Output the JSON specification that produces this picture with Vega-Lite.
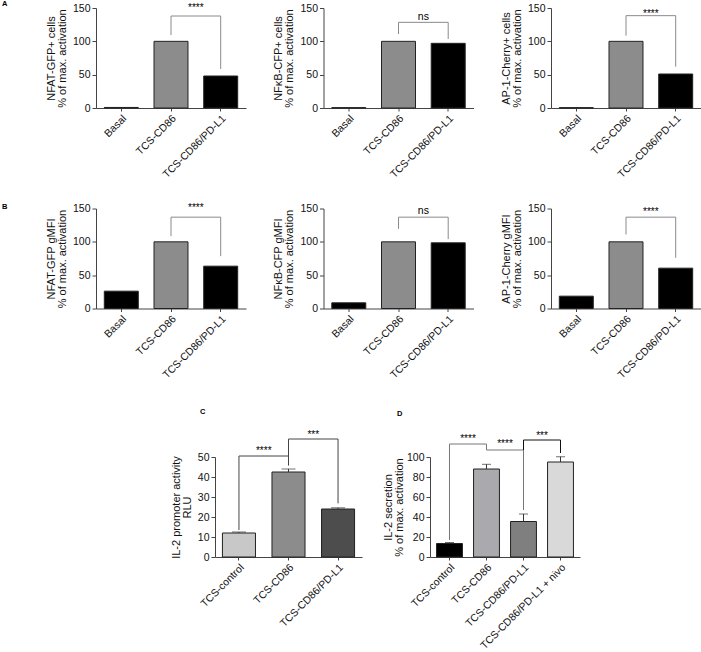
{
 "$schema": "https://vega.github.io/schema/vega-lite/v6.json",
 "padding": {"left": 2, "top": 0, "right": 0, "bottom": 0},
 "align": "none",
 "spacing": 27,
 "resolve": {"scale": {"color": "independent"}},
 "config": {
  "view": {"stroke": null},
  "font": "Liberation Sans",
  "axis": {"labelFont": "Liberation Sans", "titleFont": "Liberation Sans", "labelFontSize": 10.5, "titleFontSize": 11, "titleFontWeight": "normal", "labelColor": "#111", "titleColor": "#111", "domainColor": "#444", "tickColor": "#444", "grid": false, "titleLineHeight": 11, "labelOverlap": false, "labelFlush": false, "labelSeparation": -60},
  "axisX": {"labelAngle": -45, "tickSize": 3, "labelPadding": 2},
  "axisY": {"tickSize": 4, "labelPadding": 2, "titlePadding": 5},
  "text": {"font": "Liberation Sans", "color": "#000"},
  "title": {"font": "Liberation Sans", "fontWeight": "bold", "fontSize": 7.5, "anchor": "start", "frame": "group", "offset": 0, "color": "#000"}
 },
 "datasets": {
  "a1": [{"cond": "Basal", "v": 0.8}, {"cond": "TCS-CD86", "v": 100}, {"cond": "TCS-CD86/PD-L1", "v": 48}],
  "a1_br": [{"a": "TCS-CD86", "b": "TCS-CD86", "y": 109.5, "y2": 138}, {"a": "TCS-CD86", "b": "TCS-CD86/PD-L1", "y": 138, "y2": 138}, {"a": "TCS-CD86/PD-L1", "b": "TCS-CD86/PD-L1", "y": 58.5, "y2": 138}],
  "a1_sig": [{"a": "TCS-CD86", "y": 146, "t": "****"}],
  "a2": [{"cond": "Basal", "v": 0.5}, {"cond": "TCS-CD86", "v": 100}, {"cond": "TCS-CD86/PD-L1", "v": 97}],
  "a2_br": [{"a": "TCS-CD86", "b": "TCS-CD86", "y": 111, "y2": 128.5}, {"a": "TCS-CD86", "b": "TCS-CD86/PD-L1", "y": 128.5, "y2": 128.5}, {"a": "TCS-CD86/PD-L1", "b": "TCS-CD86/PD-L1", "y": 103.5, "y2": 128.5}],
  "a2_sig": [{"a": "TCS-CD86", "y": 132, "t": "ns"}],
  "a3": [{"cond": "Basal", "v": 0.5}, {"cond": "TCS-CD86", "v": 100}, {"cond": "TCS-CD86/PD-L1", "v": 51}],
  "a3_br": [{"a": "TCS-CD86", "b": "TCS-CD86", "y": 108.5, "y2": 138.5}, {"a": "TCS-CD86", "b": "TCS-CD86/PD-L1", "y": 138.5, "y2": 138.5}, {"a": "TCS-CD86/PD-L1", "b": "TCS-CD86/PD-L1", "y": 62, "y2": 138.5}],
  "a3_sig": [{"a": "TCS-CD86", "y": 137, "t": "****"}],
  "b1": [{"cond": "Basal", "v": 26}, {"cond": "TCS-CD86", "v": 100}, {"cond": "TCS-CD86/PD-L1", "v": 63.5}],
  "b1_br": [{"a": "TCS-CD86", "b": "TCS-CD86", "y": 108.5, "y2": 137}, {"a": "TCS-CD86", "b": "TCS-CD86/PD-L1", "y": 137, "y2": 137}, {"a": "TCS-CD86/PD-L1", "b": "TCS-CD86/PD-L1", "y": 78.5, "y2": 137}],
  "b1_sig": [{"a": "TCS-CD86", "y": 146.5, "t": "****"}],
  "b2": [{"cond": "Basal", "v": 8.5}, {"cond": "TCS-CD86", "v": 100}, {"cond": "TCS-CD86/PD-L1", "v": 98.5}],
  "b2_br": [{"a": "TCS-CD86", "b": "TCS-CD86", "y": 119.5, "y2": 137}, {"a": "TCS-CD86", "b": "TCS-CD86/PD-L1", "y": 137, "y2": 137}, {"a": "TCS-CD86/PD-L1", "b": "TCS-CD86/PD-L1", "y": 104, "y2": 137}],
  "b2_sig": [{"a": "TCS-CD86", "y": 142.5, "t": "ns"}],
  "b3": [{"cond": "Basal", "v": 18.5}, {"cond": "TCS-CD86", "v": 100}, {"cond": "TCS-CD86/PD-L1", "v": 60.5}],
  "b3_br": [{"a": "TCS-CD86", "b": "TCS-CD86", "y": 111, "y2": 137}, {"a": "TCS-CD86", "b": "TCS-CD86/PD-L1", "y": 137, "y2": 137}, {"a": "TCS-CD86/PD-L1", "b": "TCS-CD86/PD-L1", "y": 76, "y2": 137}],
  "b3_sig": [{"a": "TCS-CD86", "y": 140, "t": "****"}],
  "c": [{"cond": "TCS-control", "v": 12, "err": 12.5}, {"cond": "TCS-CD86", "v": 42.5, "err": 44}, {"cond": "TCS-CD86/PD-L1", "v": 24, "err": 24.6}],
  "c_br": [{"a": "TCS-control", "b": "TCS-control", "y": 13.5, "y2": 50.5}, {"a": "TCS-control", "b": "TCS-CD86", "y": 50.5, "y2": 50.5}, {"a": "TCS-CD86", "b": "TCS-CD86", "y": 45.7, "y2": 59}, {"a": "TCS-CD86", "b": "TCS-CD86/PD-L1", "y": 59, "y2": 59}, {"a": "TCS-CD86/PD-L1", "b": "TCS-CD86/PD-L1", "y": 26.8, "y2": 59}],
  "c_sig": [{"a": "TCS-control", "y": 51.5, "t": "****"}, {"a": "TCS-CD86", "y": 59.7, "t": "***"}],
  "d": [{"cond": "TCS-control", "v": 13.5, "err": 14.5}, {"cond": "TCS-CD86", "v": 88, "err": 92.7}, {"cond": "TCS-CD86/PD-L1", "v": 35.5, "err": 43}, {"cond": "TCS-CD86/PD-L1 + nivo", "v": 95, "err": 100.3}],
  "d_br": [{"a": "TCS-control", "b": "TCS-control", "y": 17, "y2": 113}, {"a": "TCS-control", "b": "TCS-CD86", "y": 113, "y2": 113}, {"a": "TCS-CD86", "b": "TCS-CD86", "y": 107, "y2": 113}, {"a": "TCS-CD86", "b": "TCS-CD86/PD-L1", "y": 107, "y2": 107}, {"a": "TCS-CD86/PD-L1", "b": "TCS-CD86/PD-L1", "y": 47, "y2": 107}],
  "d_br2": [{"a": "TCS-CD86/PD-L1", "b": "TCS-CD86/PD-L1", "y": 107, "y2": 117}, {"a": "TCS-CD86/PD-L1", "b": "TCS-CD86/PD-L1 + nivo", "y": 117, "y2": 117}, {"a": "TCS-CD86/PD-L1 + nivo", "b": "TCS-CD86/PD-L1 + nivo", "y": 104, "y2": 117}],
  "d_sig": [{"a": "TCS-control", "y": 114.6, "t": "****"}, {"a": "TCS-CD86", "y": 109.6, "t": "****"}, {"a": "TCS-CD86/PD-L1", "y": 118, "t": "***"}]
 },
 "vconcat": [
  {"align": "none", "spacing": 22.5, "resolve": {"scale": {"color": "independent"}},
   "vconcat": [
    {"bounds": "flush", "spacing": 77.5, "resolve": {"scale": {"color": "independent"}},
     "hconcat": [
      {"width": 150, "height": 100, "title": {"text": "A", "dx": -94, "dy": 9},
       "layer": [
        {"data": {"name": "a1"}, "mark": {"type": "bar", "stroke": "#222", "strokeWidth": 1},
         "encoding": {"x": {"field": "cond", "type": "nominal", "title": null, "scale": {"domain": ["Basal", "TCS-CD86", "TCS-CD86/PD-L1"], "paddingInner": 0.316, "paddingOuter": 0.167}, "axis": {"labelOverlap": false}},
          "y": {"field": "v", "type": "quantitative", "title": ["NFAT-GFP+ cells", "% of max. activation"], "scale": {"domain": [0, 150], "nice": false}, "axis": {"values": [0, 50, 100, 150], "labelOverlap": false, "labelSeparation": -60}},
          "color": {"field": "cond", "type": "nominal", "legend": null, "scale": {"domain": ["Basal", "TCS-CD86", "TCS-CD86/PD-L1"], "range": ["#000000", "#8c8c8c", "#000000"]}}}},
        {"data": {"name": "a1_br"}, "mark": {"type": "rule", "color": "#8a8a8a", "strokeWidth": 1},
         "encoding": {"x": {"field": "a", "type": "nominal", "axis": {"labelOverlap": false}}, "x2": {"field": "b"}, "y": {"field": "y", "type": "quantitative", "scale": {"domain": [0, 150], "nice": false}, "axis": {"values": [0, 50, 100, 150], "labelOverlap": false, "labelSeparation": -60}}, "y2": {"field": "y2"}}},
        {"data": {"name": "a1_sig"}, "mark": {"type": "text", "fontSize": 10, "baseline": "alphabetic", "align": "center"},
         "encoding": {"x": {"field": "a", "type": "nominal", "bandPosition": 1.231, "axis": {"labelOverlap": false}}, "y": {"field": "y", "type": "quantitative", "scale": {"domain": [0, 150], "nice": false}, "axis": {"values": [0, 50, 100, 150], "labelOverlap": false, "labelSeparation": -60}}, "text": {"field": "t"}}}
       ]},
      {"width": 150, "height": 100,
       "layer": [
        {"data": {"name": "a2"}, "mark": {"type": "bar", "stroke": "#222", "strokeWidth": 1},
         "encoding": {"x": {"field": "cond", "type": "nominal", "title": null, "scale": {"domain": ["Basal", "TCS-CD86", "TCS-CD86/PD-L1"], "paddingInner": 0.316, "paddingOuter": 0.167}, "axis": {"labelOverlap": false}},
          "y": {"field": "v", "type": "quantitative", "title": ["NFκB-CFP+ cells", "% of max. activation"], "scale": {"domain": [0, 150], "nice": false}, "axis": {"values": [0, 50, 100, 150], "labelOverlap": false, "labelSeparation": -60}},
          "color": {"field": "cond", "type": "nominal", "legend": null, "scale": {"domain": ["Basal", "TCS-CD86", "TCS-CD86/PD-L1"], "range": ["#000000", "#8c8c8c", "#000000"]}}}},
        {"data": {"name": "a2_br"}, "mark": {"type": "rule", "color": "#8a8a8a", "strokeWidth": 1},
         "encoding": {"x": {"field": "a", "type": "nominal", "axis": {"labelOverlap": false}}, "x2": {"field": "b"}, "y": {"field": "y", "type": "quantitative", "scale": {"domain": [0, 150], "nice": false}, "axis": {"values": [0, 50, 100, 150], "labelOverlap": false, "labelSeparation": -60}}, "y2": {"field": "y2"}}},
        {"data": {"name": "a2_sig"}, "mark": {"type": "text", "fontSize": 10.5, "baseline": "alphabetic", "align": "center"},
         "encoding": {"x": {"field": "a", "type": "nominal", "bandPosition": 1.231, "axis": {"labelOverlap": false}}, "y": {"field": "y", "type": "quantitative", "scale": {"domain": [0, 150], "nice": false}, "axis": {"values": [0, 50, 100, 150], "labelOverlap": false, "labelSeparation": -60}}, "text": {"field": "t"}}}
       ]},
      {"width": 150, "height": 100,
       "layer": [
        {"data": {"name": "a3"}, "mark": {"type": "bar", "stroke": "#222", "strokeWidth": 1},
         "encoding": {"x": {"field": "cond", "type": "nominal", "title": null, "scale": {"domain": ["Basal", "TCS-CD86", "TCS-CD86/PD-L1"], "paddingInner": 0.316, "paddingOuter": 0.167}, "axis": {"labelOverlap": false}},
          "y": {"field": "v", "type": "quantitative", "title": ["AP-1-Cherry+ cells", "% of max. activation"], "scale": {"domain": [0, 150], "nice": false}, "axis": {"values": [0, 50, 100, 150], "labelOverlap": false, "labelSeparation": -60}},
          "color": {"field": "cond", "type": "nominal", "legend": null, "scale": {"domain": ["Basal", "TCS-CD86", "TCS-CD86/PD-L1"], "range": ["#000000", "#8c8c8c", "#000000"]}}}},
        {"data": {"name": "a3_br"}, "mark": {"type": "rule", "color": "#8a8a8a", "strokeWidth": 1},
         "encoding": {"x": {"field": "a", "type": "nominal", "axis": {"labelOverlap": false}}, "x2": {"field": "b"}, "y": {"field": "y", "type": "quantitative", "scale": {"domain": [0, 150], "nice": false}, "axis": {"values": [0, 50, 100, 150], "labelOverlap": false, "labelSeparation": -60}}, "y2": {"field": "y2"}}},
        {"data": {"name": "a3_sig"}, "mark": {"type": "text", "fontSize": 10, "baseline": "alphabetic", "align": "center"},
         "encoding": {"x": {"field": "a", "type": "nominal", "bandPosition": 1.231, "axis": {"labelOverlap": false}}, "y": {"field": "y", "type": "quantitative", "scale": {"domain": [0, 150], "nice": false}, "axis": {"values": [0, 50, 100, 150], "labelOverlap": false, "labelSeparation": -60}}, "text": {"field": "t"}}}
       ]}
     ]},
    {"bounds": "flush", "spacing": 77.5, "resolve": {"scale": {"color": "independent"}},
     "hconcat": [
      {"width": 150, "height": 100, "title": {"text": "B", "dx": -94, "dy": 12},
       "layer": [
        {"data": {"name": "b1"}, "mark": {"type": "bar", "stroke": "#222", "strokeWidth": 1},
         "encoding": {"x": {"field": "cond", "type": "nominal", "title": null, "scale": {"domain": ["Basal", "TCS-CD86", "TCS-CD86/PD-L1"], "paddingInner": 0.316, "paddingOuter": 0.167}, "axis": {"labelOverlap": false}},
          "y": {"field": "v", "type": "quantitative", "title": ["NFAT-GFP gMFI", "% of max. activation"], "scale": {"domain": [0, 150], "nice": false}, "axis": {"values": [0, 50, 100, 150], "labelOverlap": false, "labelSeparation": -60}},
          "color": {"field": "cond", "type": "nominal", "legend": null, "scale": {"domain": ["Basal", "TCS-CD86", "TCS-CD86/PD-L1"], "range": ["#000000", "#8c8c8c", "#000000"]}}}},
        {"data": {"name": "b1_br"}, "mark": {"type": "rule", "color": "#8a8a8a", "strokeWidth": 1},
         "encoding": {"x": {"field": "a", "type": "nominal", "axis": {"labelOverlap": false}}, "x2": {"field": "b"}, "y": {"field": "y", "type": "quantitative", "scale": {"domain": [0, 150], "nice": false}, "axis": {"values": [0, 50, 100, 150], "labelOverlap": false, "labelSeparation": -60}}, "y2": {"field": "y2"}}},
        {"data": {"name": "b1_sig"}, "mark": {"type": "text", "fontSize": 10, "baseline": "alphabetic", "align": "center"},
         "encoding": {"x": {"field": "a", "type": "nominal", "bandPosition": 1.231, "axis": {"labelOverlap": false}}, "y": {"field": "y", "type": "quantitative", "scale": {"domain": [0, 150], "nice": false}, "axis": {"values": [0, 50, 100, 150], "labelOverlap": false, "labelSeparation": -60}}, "text": {"field": "t"}}}
       ]},
      {"width": 150, "height": 100,
       "layer": [
        {"data": {"name": "b2"}, "mark": {"type": "bar", "stroke": "#222", "strokeWidth": 1},
         "encoding": {"x": {"field": "cond", "type": "nominal", "title": null, "scale": {"domain": ["Basal", "TCS-CD86", "TCS-CD86/PD-L1"], "paddingInner": 0.316, "paddingOuter": 0.167}, "axis": {"labelOverlap": false}},
          "y": {"field": "v", "type": "quantitative", "title": ["NFκB-CFP gMFI", "% of max. activation"], "scale": {"domain": [0, 150], "nice": false}, "axis": {"values": [0, 50, 100, 150], "labelOverlap": false, "labelSeparation": -60}},
          "color": {"field": "cond", "type": "nominal", "legend": null, "scale": {"domain": ["Basal", "TCS-CD86", "TCS-CD86/PD-L1"], "range": ["#000000", "#8c8c8c", "#000000"]}}}},
        {"data": {"name": "b2_br"}, "mark": {"type": "rule", "color": "#8a8a8a", "strokeWidth": 1},
         "encoding": {"x": {"field": "a", "type": "nominal", "axis": {"labelOverlap": false}}, "x2": {"field": "b"}, "y": {"field": "y", "type": "quantitative", "scale": {"domain": [0, 150], "nice": false}, "axis": {"values": [0, 50, 100, 150], "labelOverlap": false, "labelSeparation": -60}}, "y2": {"field": "y2"}}},
        {"data": {"name": "b2_sig"}, "mark": {"type": "text", "fontSize": 10.5, "baseline": "alphabetic", "align": "center"},
         "encoding": {"x": {"field": "a", "type": "nominal", "bandPosition": 1.231, "axis": {"labelOverlap": false}}, "y": {"field": "y", "type": "quantitative", "scale": {"domain": [0, 150], "nice": false}, "axis": {"values": [0, 50, 100, 150], "labelOverlap": false, "labelSeparation": -60}}, "text": {"field": "t"}}}
       ]},
      {"width": 150, "height": 100,
       "layer": [
        {"data": {"name": "b3"}, "mark": {"type": "bar", "stroke": "#222", "strokeWidth": 1},
         "encoding": {"x": {"field": "cond", "type": "nominal", "title": null, "scale": {"domain": ["Basal", "TCS-CD86", "TCS-CD86/PD-L1"], "paddingInner": 0.316, "paddingOuter": 0.167}, "axis": {"labelOverlap": false}},
          "y": {"field": "v", "type": "quantitative", "title": ["AP-1-Cherry gMFI", "% of max. activation"], "scale": {"domain": [0, 150], "nice": false}, "axis": {"values": [0, 50, 100, 150], "labelOverlap": false, "labelSeparation": -60}},
          "color": {"field": "cond", "type": "nominal", "legend": null, "scale": {"domain": ["Basal", "TCS-CD86", "TCS-CD86/PD-L1"], "range": ["#000000", "#8c8c8c", "#000000"]}}}},
        {"data": {"name": "b3_br"}, "mark": {"type": "rule", "color": "#8a8a8a", "strokeWidth": 1},
         "encoding": {"x": {"field": "a", "type": "nominal", "axis": {"labelOverlap": false}}, "x2": {"field": "b"}, "y": {"field": "y", "type": "quantitative", "scale": {"domain": [0, 150], "nice": false}, "axis": {"values": [0, 50, 100, 150], "labelOverlap": false, "labelSeparation": -60}}, "y2": {"field": "y2"}}},
        {"data": {"name": "b3_sig"}, "mark": {"type": "text", "fontSize": 10, "baseline": "alphabetic", "align": "center"},
         "encoding": {"x": {"field": "a", "type": "nominal", "bandPosition": 1.231, "axis": {"labelOverlap": false}}, "y": {"field": "y", "type": "quantitative", "scale": {"domain": [0, 150], "nice": false}, "axis": {"values": [0, 50, 100, 150], "labelOverlap": false, "labelSeparation": -60}}, "text": {"field": "t"}}}
       ]}
     ]}
   ]},
  {"bounds": "flush", "spacing": 68, "resolve": {"scale": {"color": "independent"}},
   "hconcat": [
    {"width": 51, "height": 100, "data": {"values": []}, "mark": "point"},
    {"width": 147, "height": 100, "title": {"text": "C", "dx": -15, "dy": -10},
     "layer": [
      {"data": {"name": "c"}, "mark": {"type": "bar", "stroke": "#222", "strokeWidth": 1},
       "encoding": {"x": {"field": "cond", "type": "nominal", "title": null, "scale": {"domain": ["TCS-control", "TCS-CD86", "TCS-CD86/PD-L1"], "paddingInner": 0.333, "paddingOuter": 0.15}, "axis": {"labelOverlap": false}},
        "y": {"field": "v", "type": "quantitative", "title": ["IL-2 promoter activity", "RLU"], "scale": {"domain": [0, 50], "nice": false}, "axis": {"values": [0, 10, 20, 30, 40, 50], "labelOverlap": false, "labelSeparation": -60}},
        "color": {"field": "cond", "type": "nominal", "legend": null, "scale": {"domain": ["TCS-control", "TCS-CD86", "TCS-CD86/PD-L1"], "range": ["#c8c8c8", "#8c8c8c", "#4d4d4d"]}}}},
      {"data": {"name": "c"}, "mark": {"type": "rule", "color": "#333", "strokeWidth": 1},
       "encoding": {"x": {"field": "cond", "type": "nominal", "axis": {"labelOverlap": false}}, "y": {"field": "v", "type": "quantitative", "scale": {"domain": [0, 50], "nice": false}, "axis": {"values": [0, 10, 20, 30, 40, 50], "labelOverlap": false, "labelSeparation": -60}}, "y2": {"field": "err"}}},
      {"data": {"name": "c"}, "mark": {"type": "tick", "color": "#333", "size": 14, "thickness": 1},
       "encoding": {"x": {"field": "cond", "type": "nominal", "axis": {"labelOverlap": false}}, "y": {"field": "err", "type": "quantitative", "scale": {"domain": [0, 50], "nice": false}, "axis": {"values": [0, 10, 20, 30, 40, 50], "labelOverlap": false, "labelSeparation": -60}}}},
      {"data": {"name": "c_br"}, "mark": {"type": "rule", "color": "#444", "strokeWidth": 1},
       "encoding": {"x": {"field": "a", "type": "nominal", "axis": {"labelOverlap": false}}, "x2": {"field": "b"}, "y": {"field": "y", "type": "quantitative", "scale": {"domain": [0, 50], "nice": false}, "axis": {"values": [0, 10, 20, 30, 40, 50], "labelOverlap": false, "labelSeparation": -60}}, "y2": {"field": "y2"}}},
      {"data": {"name": "c_sig"}, "mark": {"type": "text", "fontSize": 10, "baseline": "alphabetic", "align": "center"},
       "encoding": {"x": {"field": "a", "type": "nominal", "bandPosition": 1.25, "axis": {"labelOverlap": false}}, "y": {"field": "y", "type": "quantitative", "scale": {"domain": [0, 50], "nice": false}, "axis": {"values": [0, 10, 20, 30, 40, 50], "labelOverlap": false, "labelSeparation": -60}}, "text": {"field": "t"}}}
     ]},
    {"width": 150, "height": 100, "title": {"text": "D", "dx": -33, "dy": -10},
     "layer": [
      {"data": {"name": "d"}, "mark": {"type": "bar", "stroke": "#222", "strokeWidth": 1},
       "encoding": {"x": {"field": "cond", "type": "nominal", "title": null, "scale": {"domain": ["TCS-control", "TCS-CD86", "TCS-CD86/PD-L1", "TCS-CD86/PD-L1 + nivo"], "paddingInner": 0.3, "paddingOuter": 0.177}, "axis": {"labelOverlap": false}},
        "y": {"field": "v", "type": "quantitative", "title": ["IL-2 secretion", "% of max. activation"], "scale": {"domain": [0, 100], "nice": false}, "axis": {"values": [0, 20, 40, 60, 80, 100], "titlePadding": 2, "labelOverlap": false, "labelSeparation": -60}},
        "color": {"field": "cond", "type": "nominal", "legend": null, "scale": {"domain": ["TCS-control", "TCS-CD86", "TCS-CD86/PD-L1", "TCS-CD86/PD-L1 + nivo"], "range": ["#000000", "#a9a9ae", "#7f7f7f", "#d9d9d9"]}}}},
      {"data": {"name": "d"}, "mark": {"type": "rule", "color": "#333", "strokeWidth": 1},
       "encoding": {"x": {"field": "cond", "type": "nominal", "axis": {"labelOverlap": false}}, "y": {"field": "v", "type": "quantitative", "scale": {"domain": [0, 100], "nice": false}, "axis": {"values": [0, 20, 40, 60, 80, 100], "titlePadding": 2, "labelOverlap": false, "labelSeparation": -60}}, "y2": {"field": "err"}}},
      {"data": {"name": "d"}, "mark": {"type": "tick", "color": "#333", "size": 9, "thickness": 1},
       "encoding": {"x": {"field": "cond", "type": "nominal", "axis": {"labelOverlap": false}}, "y": {"field": "err", "type": "quantitative", "scale": {"domain": [0, 100], "nice": false}, "axis": {"values": [0, 20, 40, 60, 80, 100], "titlePadding": 2, "labelOverlap": false, "labelSeparation": -60}}}},
      {"data": {"name": "d_br"}, "mark": {"type": "rule", "color": "#777", "strokeWidth": 1},
       "encoding": {"x": {"field": "a", "type": "nominal", "axis": {"labelOverlap": false}}, "x2": {"field": "b"}, "y": {"field": "y", "type": "quantitative", "scale": {"domain": [0, 100], "nice": false}, "axis": {"values": [0, 20, 40, 60, 80, 100], "titlePadding": 2, "labelOverlap": false, "labelSeparation": -60}}, "y2": {"field": "y2"}}},
      {"data": {"name": "d_br2"}, "mark": {"type": "rule", "color": "#111", "strokeWidth": 1},
       "encoding": {"x": {"field": "a", "type": "nominal", "axis": {"labelOverlap": false}}, "x2": {"field": "b"}, "y": {"field": "y", "type": "quantitative", "scale": {"domain": [0, 100], "nice": false}, "axis": {"values": [0, 20, 40, 60, 80, 100], "titlePadding": 2, "labelOverlap": false, "labelSeparation": -60}}, "y2": {"field": "y2"}}},
      {"data": {"name": "d_sig"}, "mark": {"type": "text", "fontSize": 10, "baseline": "alphabetic", "align": "center"},
       "encoding": {"x": {"field": "a", "type": "nominal", "bandPosition": 1.214, "axis": {"labelOverlap": false}}, "y": {"field": "y", "type": "quantitative", "scale": {"domain": [0, 100], "nice": false}, "axis": {"values": [0, 20, 40, 60, 80, 100], "titlePadding": 2, "labelOverlap": false, "labelSeparation": -60}}, "text": {"field": "t"}}}
     ]}
   ]}
 ]
}
